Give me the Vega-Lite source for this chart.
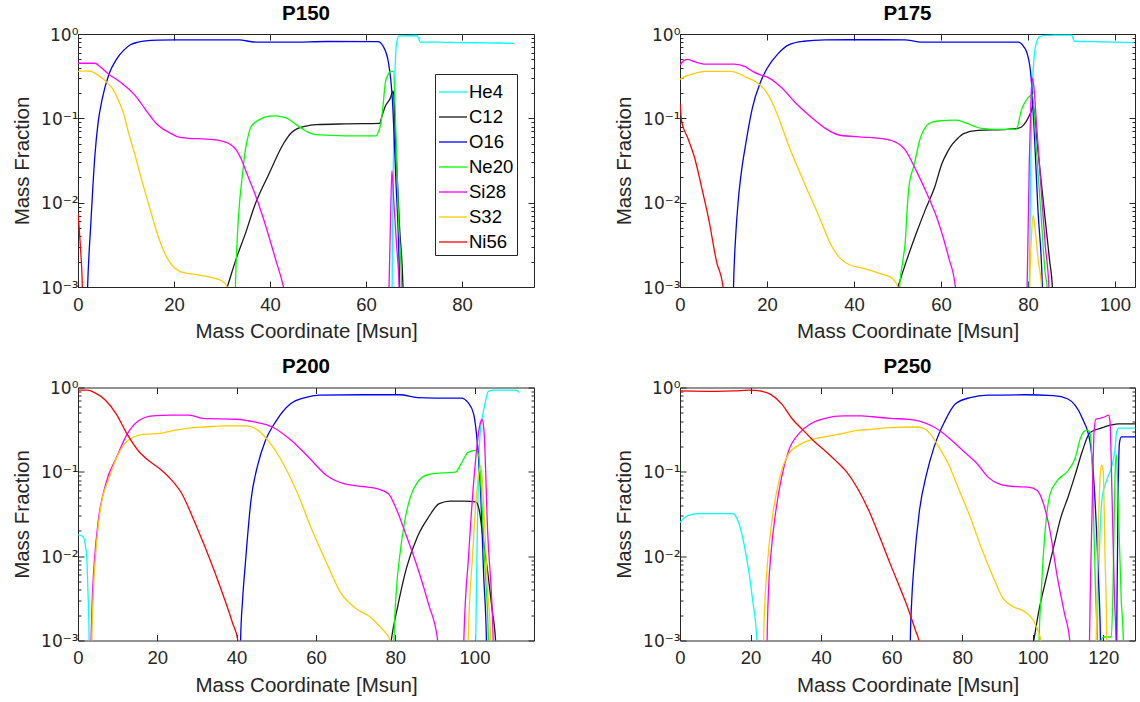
{
  "$schema": "https://vega.github.io/schema/vega-lite/v6.json",
  "background": "white",
  "padding": {"left": 12, "top": 3, "right": 4, "bottom": 4},
  "config": {
    "font": "Liberation Sans",
    "view": {"stroke": "#262626", "strokeWidth": 1},
    "axis": {"grid": false, "domain": false, "labelFont": "Liberation Sans", "labelFontSize": 18.5, "labelColor": "#262626", "titleFont": "Liberation Sans", "titleFontSize": 20.5, "titleFontWeight": "normal", "titleColor": "#262626", "tickColor": "#262626", "tickWidth": 1, "labelOverlap": false, "labelFlush": false, "labelBound": false},
    "axisX": {"tickSize": -6, "labelPadding": 14, "titlePadding": 8},
    "axisY": {"labelPadding": 6, "titlePadding": 8, "labelFont": "DejaVu Sans", "labelFontSize": 17, "labelOffset": 1},
    "legend": {"orient": "none", "legendX": 357, "legendY": 40, "strokeColor": "#262626", "fillColor": "#ffffff", "padding": 3, "symbolType": "stroke", "symbolSize": 784, "symbolStrokeWidth": 1.3, "labelFontSize": 18.5, "labelColor": "#000000", "labelFont": "Liberation Sans", "rowPadding": -5.3, "labelOffset": 1},
    "title": {"fontSize": 20.5, "fontWeight": "bold", "font": "Liberation Sans", "color": "#000000", "offset": 2},
    "line": {"strokeWidth": 1.3}
  },
  "datasets": {
    "P150": [
      {"s":"He4","m":0,"f":1e-5},{"s":"He4","m":65.2,"f":1e-5},{"s":"He4","m":65.5,"f":0.003},{"s":"He4","m":65.7,"f":0.03},{"s":"He4","m":66.0,"f":0.3},{"s":"He4","m":66.4,"f":0.8},{"s":"He4","m":66.9,"f":0.95},{"s":"He4","m":70.6,"f":0.96},{"s":"He4","m":70.9,"f":0.9},{"s":"He4","m":71.3,"f":0.8},{"s":"He4","m":75,"f":0.8},{"s":"He4","m":80,"f":0.79},{"s":"He4","m":85,"f":0.785},{"s":"He4","m":90.8,"f":0.775},
      {"s":"C12","m":0,"f":1e-5},{"s":"C12","m":20,"f":1e-5},{"s":"C12","m":28,"f":0.00028},{"s":"C12","m":31.1,"f":0.001},{"s":"C12","m":33,"f":0.0022},{"s":"C12","m":35,"f":0.0045},{"s":"C12","m":36.7,"f":0.0089},{"s":"C12","m":39.8,"f":0.022},{"s":"C12","m":42.8,"f":0.05},{"s":"C12","m":44.5,"f":0.068},{"s":"C12","m":45.8,"f":0.076},{"s":"C12","m":47.5,"f":0.081},{"s":"C12","m":49.6,"f":0.084},{"s":"C12","m":55.7,"f":0.086},{"s":"C12","m":62.8,"f":0.087},{"s":"C12","m":63.4,"f":0.11},{"s":"C12","m":64.0,"f":0.138},{"s":"C12","m":65.0,"f":0.17},{"s":"C12","m":65.7,"f":0.21},{"s":"C12","m":66.2,"f":0.05},{"s":"C12","m":67.0,"f":0.005},{"s":"C12","m":67.7,"f":0.001},{"s":"C12","m":68.0,"f":1e-5},
      {"s":"O16","m":0,"f":1e-5},{"s":"O16","m":1.2,"f":1e-5},{"s":"O16","m":2.0,"f":0.001},{"s":"O16","m":2.7,"f":0.006},{"s":"O16","m":3.5,"f":0.035},{"s":"O16","m":4.2,"f":0.09},{"s":"O16","m":5.0,"f":0.165},{"s":"O16","m":6.5,"f":0.34},{"s":"O16","m":8.0,"f":0.5},{"s":"O16","m":9.5,"f":0.64},{"s":"O16","m":11.0,"f":0.75},{"s":"O16","m":12.5,"f":0.8},{"s":"O16","m":14.1,"f":0.83},{"s":"O16","m":17,"f":0.845},{"s":"O16","m":20.1,"f":0.85},{"s":"O16","m":27,"f":0.85},{"s":"O16","m":33.7,"f":0.85},{"s":"O16","m":35.5,"f":0.82},{"s":"O16","m":37.5,"f":0.8},{"s":"O16","m":44.3,"f":0.8},{"s":"O16","m":51.9,"f":0.815},{"s":"O16","m":62.5,"f":0.81},{"s":"O16","m":63.6,"f":0.71},{"s":"O16","m":64.7,"f":0.45},{"s":"O16","m":65.5,"f":0.165},{"s":"O16","m":66.2,"f":0.02},{"s":"O16","m":67.0,"f":0.001},{"s":"O16","m":67.4,"f":1e-5},
      {"s":"Ne20","m":0,"f":1e-5},{"s":"Ne20","m":32.3,"f":1e-5},{"s":"Ne20","m":32.8,"f":0.001},{"s":"Ne20","m":33.2,"f":0.004},{"s":"Ne20","m":33.7,"f":0.0107},{"s":"Ne20","m":34.2,"f":0.02},{"s":"Ne20","m":34.8,"f":0.04},{"s":"Ne20","m":35.4,"f":0.06},{"s":"Ne20","m":36.0,"f":0.079},{"s":"Ne20","m":37.2,"f":0.092},{"s":"Ne20","m":38.3,"f":0.1},{"s":"Ne20","m":40,"f":0.106},{"s":"Ne20","m":41.3,"f":0.107},{"s":"Ne20","m":42.5,"f":0.104},{"s":"Ne20","m":43.6,"f":0.1},{"s":"Ne20","m":45,"f":0.088},{"s":"Ne20","m":46.6,"f":0.076},{"s":"Ne20","m":48,"f":0.068},{"s":"Ne20","m":49.6,"f":0.064},{"s":"Ne20","m":55.7,"f":0.062},{"s":"Ne20","m":62.1,"f":0.062},{"s":"Ne20","m":62.6,"f":0.07},{"s":"Ne20","m":63.1,"f":0.087},{"s":"Ne20","m":63.6,"f":0.15},{"s":"Ne20","m":64.0,"f":0.26},{"s":"Ne20","m":64.6,"f":0.33},{"s":"Ne20","m":65.1,"f":0.36},{"s":"Ne20","m":65.7,"f":0.36},{"s":"Ne20","m":66.3,"f":0.05},{"s":"Ne20","m":66.8,"f":0.006},{"s":"Ne20","m":67.4,"f":0.001},{"s":"Ne20","m":67.8,"f":1e-5},
      {"s":"Si28","m":0,"f":0.45},{"s":"Si28","m":2,"f":0.45},{"s":"Si28","m":3.5,"f":0.45},{"s":"Si28","m":4.6,"f":0.41},{"s":"Si28","m":6.5,"f":0.33},{"s":"Si28","m":8,"f":0.29},{"s":"Si28","m":9.5,"f":0.25},{"s":"Si28","m":11.8,"f":0.19},{"s":"Si28","m":13,"f":0.155},{"s":"Si28","m":14.1,"f":0.126},{"s":"Si28","m":16.3,"f":0.087},{"s":"Si28","m":19.4,"f":0.066},{"s":"Si28","m":21,"f":0.06},{"s":"Si28","m":23.1,"f":0.058},{"s":"Si28","m":26,"f":0.057},{"s":"Si28","m":29.2,"f":0.055},{"s":"Si28","m":31.5,"f":0.05},{"s":"Si28","m":33.0,"f":0.042},{"s":"Si28","m":34,"f":0.033},{"s":"Si28","m":35.2,"f":0.022},{"s":"Si28","m":36.8,"f":0.013},{"s":"Si28","m":38.3,"f":0.0074},{"s":"Si28","m":41.3,"f":0.002},{"s":"Si28","m":42.8,"f":0.001},{"s":"Si28","m":43.5,"f":0.0006},{"s":"Si28","m":44.5,"f":1e-5},{"s":"Si28","m":64.3,"f":1e-5},{"s":"Si28","m":64.8,"f":0.001},{"s":"Si28","m":65.1,"f":0.006},{"s":"Si28","m":65.4,"f":0.024},{"s":"Si28","m":65.8,"f":0.01},{"s":"Si28","m":66.4,"f":0.003},{"s":"Si28","m":66.9,"f":0.001},{"s":"Si28","m":67.2,"f":1e-5},
      {"s":"S32","m":0,"f":0.36},{"s":"S32","m":1.5,"f":0.365},{"s":"S32","m":2.7,"f":0.36},{"s":"S32","m":4,"f":0.33},{"s":"S32","m":5,"f":0.3},{"s":"S32","m":6.2,"f":0.26},{"s":"S32","m":7.3,"f":0.22},{"s":"S32","m":8.5,"f":0.16},{"s":"S32","m":9.5,"f":0.114},{"s":"S32","m":10.6,"f":0.065},{"s":"S32","m":11.8,"f":0.038},{"s":"S32","m":13,"f":0.021},{"s":"S32","m":14.1,"f":0.0127},{"s":"S32","m":15.2,"f":0.0077},{"s":"S32","m":16.3,"f":0.0047},{"s":"S32","m":17.5,"f":0.003},{"s":"S32","m":18.6,"f":0.0022},{"s":"S32","m":20,"f":0.0017},{"s":"S32","m":21.6,"f":0.0015},{"s":"S32","m":24.7,"f":0.0014},{"s":"S32","m":27.7,"f":0.0013},{"s":"S32","m":30.0,"f":0.00118},{"s":"S32","m":31.1,"f":0.001},{"s":"S32","m":31.6,"f":0.0006},{"s":"S32","m":32.2,"f":1e-5},
      {"s":"Ni56","m":0,"f":0.0075},{"s":"Ni56","m":0.5,"f":0.003},{"s":"Ni56","m":0.9,"f":0.001},{"s":"Ni56","m":1.3,"f":1e-5}
    ],
    "P175": [
      {"s":"He4","m":0,"f":1e-5},{"s":"He4","m":80.0,"f":1e-5},{"s":"He4","m":80.3,"f":0.001},{"s":"He4","m":80.6,"f":0.02},{"s":"He4","m":80.9,"f":0.15},{"s":"He4","m":81.3,"f":0.45},{"s":"He4","m":81.9,"f":0.78},{"s":"He4","m":82.7,"f":0.93},{"s":"He4","m":83.5,"f":0.955},{"s":"He4","m":86,"f":0.97},{"s":"He4","m":90.1,"f":0.97},{"s":"He4","m":90.4,"f":0.87},{"s":"He4","m":90.7,"f":0.82},{"s":"He4","m":95,"f":0.81},{"s":"He4","m":100,"f":0.8},{"s":"He4","m":104.3,"f":0.79},
      {"s":"C12","m":0,"f":1e-5},{"s":"C12","m":46,"f":1e-5},{"s":"C12","m":48,"f":0.00045},{"s":"C12","m":50.1,"f":0.001},{"s":"C12","m":52,"f":0.002},{"s":"C12","m":54.3,"f":0.0043},{"s":"C12","m":56.5,"f":0.0085},{"s":"C12","m":58.5,"f":0.015},{"s":"C12","m":60.2,"f":0.029},{"s":"C12","m":61.5,"f":0.04},{"s":"C12","m":62.7,"f":0.05},{"s":"C12","m":64,"f":0.059},{"s":"C12","m":65.2,"f":0.066},{"s":"C12","m":68.5,"f":0.072},{"s":"C12","m":75.2,"f":0.074},{"s":"C12","m":77.5,"f":0.076},{"s":"C12","m":78.5,"f":0.079},{"s":"C12","m":79.5,"f":0.09},{"s":"C12","m":80.2,"f":0.105},{"s":"C12","m":80.7,"f":0.12},{"s":"C12","m":81.2,"f":0.14},{"s":"C12","m":82,"f":0.058},{"s":"C12","m":83,"f":0.0185},{"s":"C12","m":84,"f":0.006},{"s":"C12","m":85,"f":0.002},{"s":"C12","m":85.6,"f":0.001},{"s":"C12","m":86,"f":1e-5},
      {"s":"O16","m":0,"f":1e-5},{"s":"O16","m":11.7,"f":1e-5},{"s":"O16","m":12.3,"f":0.001},{"s":"O16","m":12.8,"f":0.004},{"s":"O16","m":13.4,"f":0.0107},{"s":"O16","m":14.2,"f":0.025},{"s":"O16","m":15.0,"f":0.046},{"s":"O16","m":16.7,"f":0.137},{"s":"O16","m":18.4,"f":0.26},{"s":"O16","m":20.0,"f":0.39},{"s":"O16","m":22.6,"f":0.59},{"s":"O16","m":25.1,"f":0.75},{"s":"O16","m":28.4,"f":0.82},{"s":"O16","m":33.4,"f":0.85},{"s":"O16","m":41.8,"f":0.855},{"s":"O16","m":51.8,"f":0.85},{"s":"O16","m":53.5,"f":0.83},{"s":"O16","m":55.1,"f":0.8},{"s":"O16","m":65.2,"f":0.8},{"s":"O16","m":77.7,"f":0.8},{"s":"O16","m":79.0,"f":0.71},{"s":"O16","m":79.8,"f":0.59},{"s":"O16","m":80.7,"f":0.31},{"s":"O16","m":81.5,"f":0.06},{"s":"O16","m":82.3,"f":0.008},{"s":"O16","m":83.3,"f":0.001},{"s":"O16","m":83.7,"f":1e-5},
      {"s":"Ne20","m":0,"f":1e-5},{"s":"Ne20","m":50.0,"f":1e-5},{"s":"Ne20","m":50.5,"f":0.001},{"s":"Ne20","m":51.2,"f":0.002},{"s":"Ne20","m":51.8,"f":0.0035},{"s":"Ne20","m":52.2,"f":0.008},{"s":"Ne20","m":52.6,"f":0.015},{"s":"Ne20","m":53.9,"f":0.029},{"s":"Ne20","m":55.1,"f":0.055},{"s":"Ne20","m":56.8,"f":0.083},{"s":"Ne20","m":58,"f":0.09},{"s":"Ne20","m":59.3,"f":0.093},{"s":"Ne20","m":63.5,"f":0.095},{"s":"Ne20","m":66.0,"f":0.087},{"s":"Ne20","m":69.3,"f":0.076},{"s":"Ne20","m":73,"f":0.074},{"s":"Ne20","m":77.3,"f":0.074},{"s":"Ne20","m":78.5,"f":0.126},{"s":"Ne20","m":79.8,"f":0.17},{"s":"Ne20","m":81.0,"f":0.19},{"s":"Ne20","m":82,"f":0.037},{"s":"Ne20","m":83,"f":0.0072},{"s":"Ne20","m":84,"f":0.0014},{"s":"Ne20","m":84.4,"f":0.001},{"s":"Ne20","m":84.8,"f":1e-5},
      {"s":"Si28","m":0,"f":0.43},{"s":"Si28","m":0.8,"f":0.48},{"s":"Si28","m":1.7,"f":0.5},{"s":"Si28","m":3.3,"f":0.47},{"s":"Si28","m":5.8,"f":0.44},{"s":"Si28","m":12.5,"f":0.44},{"s":"Si28","m":15.0,"f":0.41},{"s":"Si28","m":16.7,"f":0.36},{"s":"Si28","m":18.3,"f":0.33},{"s":"Si28","m":20.0,"f":0.31},{"s":"Si28","m":23.4,"f":0.23},{"s":"Si28","m":26.7,"f":0.15},{"s":"Si28","m":30.1,"f":0.104},{"s":"Si28","m":33.4,"f":0.076},{"s":"Si28","m":36.8,"f":0.063},{"s":"Si28","m":41.8,"f":0.06},{"s":"Si28","m":45.9,"f":0.058},{"s":"Si28","m":49.3,"f":0.053},{"s":"Si28","m":51.8,"f":0.042},{"s":"Si28","m":54.3,"f":0.024},{"s":"Si28","m":56.8,"f":0.0127},{"s":"Si28","m":59.3,"f":0.0061},{"s":"Si28","m":61.8,"f":0.0022},{"s":"Si28","m":63.3,"f":0.001},{"s":"Si28","m":64,"f":1e-5},{"s":"Si28","m":79.3,"f":1e-5},{"s":"Si28","m":79.8,"f":0.001},{"s":"Si28","m":80.3,"f":0.03},{"s":"Si28","m":80.7,"f":0.18},{"s":"Si28","m":81.0,"f":0.3},{"s":"Si28","m":81.3,"f":0.25},{"s":"Si28","m":82,"f":0.08},{"s":"Si28","m":83,"f":0.015},{"s":"Si28","m":84,"f":0.003},{"s":"Si28","m":84.8,"f":0.001},{"s":"Si28","m":85.2,"f":1e-5},
      {"s":"S32","m":0,"f":0.29},{"s":"S32","m":1,"f":0.31},{"s":"S32","m":2.5,"f":0.33},{"s":"S32","m":5.8,"f":0.36},{"s":"S32","m":11.7,"f":0.36},{"s":"S32","m":13.5,"f":0.34},{"s":"S32","m":15.0,"f":0.31},{"s":"S32","m":17.5,"f":0.27},{"s":"S32","m":20.0,"f":0.2},{"s":"S32","m":21.3,"f":0.15},{"s":"S32","m":22.6,"f":0.104},{"s":"S32","m":25.1,"f":0.046},{"s":"S32","m":28.4,"f":0.018},{"s":"S32","m":31.7,"f":0.0074},{"s":"S32","m":35.1,"f":0.0029},{"s":"S32","m":36.8,"f":0.0022},{"s":"S32","m":38.4,"f":0.0019},{"s":"S32","m":43.4,"f":0.0016},{"s":"S32","m":46.8,"f":0.0014},{"s":"S32","m":48.5,"f":0.0013},{"s":"S32","m":50.1,"f":0.001},{"s":"S32","m":50.6,"f":1e-5},{"s":"S32","m":79.9,"f":1e-5},{"s":"S32","m":80.4,"f":0.001},{"s":"S32","m":80.8,"f":0.004},{"s":"S32","m":81.2,"f":0.007},{"s":"S32","m":81.6,"f":0.005},{"s":"S32","m":82.4,"f":0.002},{"s":"S32","m":83.1,"f":0.001},{"s":"S32","m":83.5,"f":1e-5},
      {"s":"Ni56","m":0,"f":0.15},{"s":"Ni56","m":0.4,"f":0.091},{"s":"Ni56","m":1.7,"f":0.06},{"s":"Ni56","m":3.3,"f":0.035},{"s":"Ni56","m":5.0,"f":0.015},{"s":"Ni56","m":6.7,"f":0.006},{"s":"Ni56","m":8.4,"f":0.002},{"s":"Ni56","m":9.9,"f":0.001},{"s":"Ni56","m":10.5,"f":1e-5}
    ],
    "P200": [
      {"s":"He4","m":0,"f":0.018},{"s":"He4","m":1.3,"f":0.017},{"s":"He4","m":1.8,"f":0.014},{"s":"He4","m":2.2,"f":0.0097},{"s":"He4","m":2.5,"f":0.004},{"s":"He4","m":2.8,"f":0.001},{"s":"He4","m":3.1,"f":1e-5},{"s":"He4","m":99.9,"f":1e-5},{"s":"He4","m":100.3,"f":0.001},{"s":"He4","m":100.7,"f":0.02},{"s":"He4","m":101.1,"f":0.15},{"s":"He4","m":101.4,"f":0.28},{"s":"He4","m":102.0,"f":0.45},{"s":"He4","m":102.6,"f":0.63},{"s":"He4","m":103.5,"f":0.9},{"s":"He4","m":104.8,"f":0.93},{"s":"He4","m":110.3,"f":0.93},{"s":"He4","m":110.8,"f":0.92},{"s":"He4","m":111.3,"f":0.87},
      {"s":"C12","m":0,"f":1e-5},{"s":"C12","m":76,"f":1e-5},{"s":"C12","m":78,"f":0.0004},{"s":"C12","m":79.0,"f":0.001},{"s":"C12","m":80.6,"f":0.0025},{"s":"C12","m":82.9,"f":0.0074},{"s":"C12","m":85.6,"f":0.017},{"s":"C12","m":88.4,"f":0.029},{"s":"C12","m":91.1,"f":0.042},{"s":"C12","m":93.9,"f":0.045},{"s":"C12","m":97.5,"f":0.045},{"s":"C12","m":100.3,"f":0.044},{"s":"C12","m":101.2,"f":0.035},{"s":"C12","m":102.1,"f":0.017},{"s":"C12","m":103.5,"f":0.0056},{"s":"C12","m":104.5,"f":0.0022},{"s":"C12","m":105.3,"f":0.001},{"s":"C12","m":105.7,"f":1e-5},
      {"s":"O16","m":0,"f":1e-5},{"s":"O16","m":40.5,"f":1e-5},{"s":"O16","m":41.0,"f":0.001},{"s":"O16","m":41.5,"f":0.003},{"s":"O16","m":42.2,"f":0.0081},{"s":"O16","m":43.6,"f":0.045},{"s":"O16","m":45.4,"f":0.124},{"s":"O16","m":47.2,"f":0.23},{"s":"O16","m":49.95,"f":0.4},{"s":"O16","m":53.6,"f":0.64},{"s":"O16","m":57.3,"f":0.76},{"s":"O16","m":60.9,"f":0.81},{"s":"O16","m":71.9,"f":0.82},{"s":"O16","m":81.1,"f":0.82},{"s":"O16","m":85.6,"f":0.76},{"s":"O16","m":90,"f":0.75},{"s":"O16","m":96.6,"f":0.75},{"s":"O16","m":98.4,"f":0.66},{"s":"O16","m":99.8,"f":0.48},{"s":"O16","m":100.5,"f":0.28},{"s":"O16","m":101.6,"f":0.05},{"s":"O16","m":102.3,"f":0.006},{"s":"O16","m":103.0,"f":0.001},{"s":"O16","m":103.4,"f":1e-5},
      {"s":"Ne20","m":0,"f":1e-5},{"s":"Ne20","m":79.2,"f":1e-5},{"s":"Ne20","m":79.7,"f":0.001},{"s":"Ne20","m":80.3,"f":0.004},{"s":"Ne20","m":81.1,"f":0.0097},{"s":"Ne20","m":82.4,"f":0.026},{"s":"Ne20","m":83.8,"f":0.05},{"s":"Ne20","m":85.6,"f":0.075},{"s":"Ne20","m":88.4,"f":0.093},{"s":"Ne20","m":92.0,"f":0.097},{"s":"Ne20","m":95.2,"f":0.099},{"s":"Ne20","m":96.6,"f":0.124},{"s":"Ne20","m":98.4,"f":0.17},{"s":"Ne20","m":100.3,"f":0.18},{"s":"Ne20","m":101.0,"f":0.16},{"s":"Ne20","m":101.8,"f":0.05},{"s":"Ne20","m":102.6,"f":0.008},{"s":"Ne20","m":103.5,"f":0.001},{"s":"Ne20","m":103.9,"f":1e-5},
      {"s":"Si28","m":0,"f":1e-5},{"s":"Si28","m":2.8,"f":1e-5},{"s":"Si28","m":3.3,"f":0.001},{"s":"Si28","m":3.7,"f":0.004},{"s":"Si28","m":4.2,"f":0.0097},{"s":"Si28","m":5.1,"f":0.026},{"s":"Si28","m":7.0,"f":0.072},{"s":"Si28","m":9.7,"f":0.148},{"s":"Si28","m":12.4,"f":0.28},{"s":"Si28","m":15.2,"f":0.4},{"s":"Si28","m":18.8,"f":0.46},{"s":"Si28","m":23.4,"f":0.47},{"s":"Si28","m":28.0,"f":0.47},{"s":"Si28","m":31.7,"f":0.43},{"s":"Si28","m":39.9,"f":0.42},{"s":"Si28","m":44.5,"f":0.39},{"s":"Si28","m":49.0,"f":0.34},{"s":"Si28","m":53.6,"f":0.24},{"s":"Si28","m":58.2,"f":0.148},{"s":"Si28","m":62.8,"f":0.09},{"s":"Si28","m":67.3,"f":0.072},{"s":"Si28","m":71.9,"f":0.067},{"s":"Si28","m":75.6,"f":0.063},{"s":"Si28","m":78.3,"f":0.055},{"s":"Si28","m":80.1,"f":0.038},{"s":"Si28","m":82.9,"f":0.017},{"s":"Si28","m":85.6,"f":0.0074},{"s":"Si28","m":88.4,"f":0.0027},{"s":"Si28","m":90.7,"f":0.001},{"s":"Si28","m":91.2,"f":1e-5},{"s":"Si28","m":96.8,"f":1e-5},{"s":"Si28","m":97.3,"f":0.001},{"s":"Si28","m":98.5,"f":0.01},{"s":"Si28","m":100.0,"f":0.1},{"s":"Si28","m":101.3,"f":0.35},{"s":"Si28","m":101.9,"f":0.42},{"s":"Si28","m":102.4,"f":0.3},{"s":"Si28","m":103.3,"f":0.02},{"s":"Si28","m":104.7,"f":0.001},{"s":"Si28","m":105.0,"f":1e-5},
      {"s":"S32","m":0,"f":1e-5},{"s":"S32","m":3.0,"f":1e-5},{"s":"S32","m":3.5,"f":0.001},{"s":"S32","m":3.9,"f":0.004},{"s":"S32","m":4.4,"f":0.0097},{"s":"S32","m":5.6,"f":0.035},{"s":"S32","m":7.9,"f":0.086},{"s":"S32","m":10.6,"f":0.178},{"s":"S32","m":13.4,"f":0.25},{"s":"S32","m":17.0,"f":0.28},{"s":"S32","m":20.7,"f":0.285},{"s":"S32","m":24.3,"f":0.31},{"s":"S32","m":28.0,"f":0.33},{"s":"S32","m":31.7,"f":0.34},{"s":"S32","m":37.1,"f":0.35},{"s":"S32","m":42.6,"f":0.35},{"s":"S32","m":45.4,"f":0.31},{"s":"S32","m":48.1,"f":0.23},{"s":"S32","m":51.8,"f":0.124},{"s":"S32","m":55.4,"f":0.055},{"s":"S32","m":59.1,"f":0.02},{"s":"S32","m":62.8,"f":0.0081},{"s":"S32","m":66.4,"f":0.0036},{"s":"S32","m":70.1,"f":0.0024},{"s":"S32","m":73.7,"f":0.0019},{"s":"S32","m":76.5,"f":0.0014},{"s":"S32","m":78.7,"f":0.001},{"s":"S32","m":79.2,"f":1e-5},{"s":"S32","m":97.9,"f":1e-5},{"s":"S32","m":98.4,"f":0.001},{"s":"S32","m":99.5,"f":0.01},{"s":"S32","m":100.6,"f":0.06},{"s":"S32","m":101.3,"f":0.11},{"s":"S32","m":101.6,"f":0.118},{"s":"S32","m":102.2,"f":0.05},{"s":"S32","m":103.3,"f":0.004},{"s":"S32","m":104.1,"f":0.001},{"s":"S32","m":104.4,"f":1e-5},
      {"s":"Ni56","m":0,"f":0.93},{"s":"Ni56","m":2.4,"f":0.93},{"s":"Ni56","m":4.2,"f":0.87},{"s":"Ni56","m":7.0,"f":0.7},{"s":"Ni56","m":9.7,"f":0.48},{"s":"Ni56","m":12.4,"f":0.28},{"s":"Ni56","m":15.2,"f":0.178},{"s":"Ni56","m":17.9,"f":0.135},{"s":"Ni56","m":20.7,"f":0.108},{"s":"Ni56","m":23.4,"f":0.082},{"s":"Ni56","m":26.2,"f":0.055},{"s":"Ni56","m":28.9,"f":0.029},{"s":"Ni56","m":31.7,"f":0.014},{"s":"Ni56","m":35.3,"f":0.0051},{"s":"Ni56","m":39.0,"f":0.0016},{"s":"Ni56","m":40.3,"f":0.001},{"s":"Ni56","m":40.8,"f":1e-5}
    ],
    "P250": [
      {"s":"He4","m":0,"f":0.025},{"s":"He4","m":1,"f":0.028},{"s":"He4","m":2.1,"f":0.03},{"s":"He4","m":5.1,"f":0.032},{"s":"He4","m":10.3,"f":0.032},{"s":"He4","m":14.9,"f":0.032},{"s":"He4","m":16.5,"f":0.026},{"s":"He4","m":18.5,"f":0.0117},{"s":"He4","m":20.6,"f":0.003},{"s":"He4","m":21.8,"f":0.001},{"s":"He4","m":22.3,"f":1e-5},{"s":"He4","m":117.8,"f":1e-5},{"s":"He4","m":118.3,"f":0.001},{"s":"He4","m":119,"f":0.015},{"s":"He4","m":119.7,"f":0.05},{"s":"He4","m":121,"f":0.08},{"s":"He4","m":122.5,"f":0.12},{"s":"He4","m":123.3,"f":0.18},{"s":"He4","m":123.8,"f":0.3},{"s":"He4","m":124.5,"f":0.33},{"s":"He4","m":129,"f":0.33},
      {"s":"C12","m":0,"f":1e-5},{"s":"C12","m":97,"f":1e-5},{"s":"C12","m":99,"f":0.0005},{"s":"C12","m":100.3,"f":0.001},{"s":"C12","m":101.8,"f":0.0023},{"s":"C12","m":103.9,"f":0.0056},{"s":"C12","m":105.9,"f":0.0127},{"s":"C12","m":108.0,"f":0.029},{"s":"C12","m":110.0,"f":0.05},{"s":"C12","m":112.1,"f":0.094},{"s":"C12","m":114.1,"f":0.178},{"s":"C12","m":116.2,"f":0.29},{"s":"C12","m":118.3,"f":0.32},{"s":"C12","m":120.3,"f":0.34},{"s":"C12","m":122.4,"f":0.36},{"s":"C12","m":124.4,"f":0.37},{"s":"C12","m":129,"f":0.37},
      {"s":"O16","m":0,"f":1e-5},{"s":"O16","m":64.8,"f":1e-5},{"s":"O16","m":65.3,"f":0.001},{"s":"O16","m":65.7,"f":0.003},{"s":"O16","m":66.3,"f":0.0074},{"s":"O16","m":67.9,"f":0.035},{"s":"O16","m":69.9,"f":0.094},{"s":"O16","m":72.0,"f":0.195},{"s":"O16","m":75.1,"f":0.4},{"s":"O16","m":78.1,"f":0.64},{"s":"O16","m":82.3,"f":0.76},{"s":"O16","m":87.4,"f":0.81},{"s":"O16","m":97.7,"f":0.82},{"s":"O16","m":105.9,"f":0.8},{"s":"O16","m":110.0,"f":0.73},{"s":"O16","m":112.1,"f":0.61},{"s":"O16","m":114.1,"f":0.43},{"s":"O16","m":116.3,"f":0.22},{"s":"O16","m":117.5,"f":0.06},{"s":"O16","m":118.6,"f":0.006},{"s":"O16","m":119.2,"f":0.001},{"s":"O16","m":119.6,"f":1e-5},{"s":"O16","m":123.4,"f":1e-5},{"s":"O16","m":123.8,"f":0.001},{"s":"O16","m":124.2,"f":0.05},{"s":"O16","m":124.6,"f":0.22},{"s":"O16","m":125.1,"f":0.26},{"s":"O16","m":129,"f":0.26},
      {"s":"Ne20","m":0,"f":1e-5},{"s":"Ne20","m":101.3,"f":1e-5},{"s":"Ne20","m":101.8,"f":0.001},{"s":"Ne20","m":102.3,"f":0.003},{"s":"Ne20","m":102.8,"f":0.0074},{"s":"Ne20","m":103.9,"f":0.029},{"s":"Ne20","m":104.9,"f":0.054},{"s":"Ne20","m":106.9,"f":0.078},{"s":"Ne20","m":110.0,"f":0.103},{"s":"Ne20","m":112.1,"f":0.148},{"s":"Ne20","m":113.6,"f":0.256},{"s":"Ne20","m":115.2,"f":0.31},{"s":"Ne20","m":116.2,"f":0.3},{"s":"Ne20","m":117.0,"f":0.08},{"s":"Ne20","m":117.8,"f":0.004},{"s":"Ne20","m":118.6,"f":0.0008},{"s":"Ne20","m":119.6,"f":0.00105},{"s":"Ne20","m":120.3,"f":0.0011},{"s":"Ne20","m":122.3,"f":0.0011},{"s":"Ne20","m":122.8,"f":0.005},{"s":"Ne20","m":123.3,"f":0.08},{"s":"Ne20","m":123.7,"f":0.16},{"s":"Ne20","m":124.2,"f":0.05},{"s":"Ne20","m":125.1,"f":0.003},{"s":"Ne20","m":125.7,"f":0.001},{"s":"Ne20","m":126.1,"f":1e-5},
      {"s":"Si28","m":0,"f":1e-5},{"s":"Si28","m":24.2,"f":1e-5},{"s":"Si28","m":24.7,"f":0.001},{"s":"Si28","m":25.1,"f":0.004},{"s":"Si28","m":25.7,"f":0.0097},{"s":"Si28","m":27.2,"f":0.035},{"s":"Si28","m":28.8,"f":0.086},{"s":"Si28","m":30.8,"f":0.178},{"s":"Si28","m":33.9,"f":0.29},{"s":"Si28","m":37.0,"f":0.37},{"s":"Si28","m":41.1,"f":0.43},{"s":"Si28","m":46.3,"f":0.46},{"s":"Si28","m":51.4,"f":0.46},{"s":"Si28","m":54.5,"f":0.45},{"s":"Si28","m":59.6,"f":0.43},{"s":"Si28","m":64.8,"f":0.42},{"s":"Si28","m":67.9,"f":0.4},{"s":"Si28","m":72.0,"f":0.34},{"s":"Si28","m":76.1,"f":0.256},{"s":"Si28","m":80.2,"f":0.178},{"s":"Si28","m":84.3,"f":0.124},{"s":"Si28","m":87.4,"f":0.086},{"s":"Si28","m":90.5,"f":0.072},{"s":"Si28","m":94.6,"f":0.067},{"s":"Si28","m":98.7,"f":0.066},{"s":"Si28","m":101.3,"f":0.06},{"s":"Si28","m":102.8,"f":0.045},{"s":"Si28","m":104.9,"f":0.02},{"s":"Si28","m":107.0,"f":0.0056},{"s":"Si28","m":109.0,"f":0.0021},{"s":"Si28","m":110.5,"f":0.001},{"s":"Si28","m":111,"f":1e-5},{"s":"Si28","m":115.6,"f":1e-5},{"s":"Si28","m":116.1,"f":0.001},{"s":"Si28","m":116.8,"f":0.03},{"s":"Si28","m":117.4,"f":0.3},{"s":"Si28","m":117.9,"f":0.42},{"s":"Si28","m":119,"f":0.43},{"s":"Si28","m":120.5,"f":0.45},{"s":"Si28","m":121.5,"f":0.47},{"s":"Si28","m":121.9,"f":0.4},{"s":"Si28","m":122.5,"f":0.05},{"s":"Si28","m":123.2,"f":0.003},{"s":"Si28","m":123.6,"f":0.001},{"s":"Si28","m":124,"f":1e-5},
      {"s":"S32","m":0,"f":1e-5},{"s":"S32","m":23.2,"f":1e-5},{"s":"S32","m":23.7,"f":0.001},{"s":"S32","m":24.1,"f":0.003},{"s":"S32","m":24.7,"f":0.0074},{"s":"S32","m":26.2,"f":0.029},{"s":"S32","m":28.3,"f":0.086},{"s":"S32","m":30.8,"f":0.163},{"s":"S32","m":33.9,"f":0.21},{"s":"S32","m":37.0,"f":0.24},{"s":"S32","m":41.1,"f":0.26},{"s":"S32","m":45.2,"f":0.28},{"s":"S32","m":50.4,"f":0.31},{"s":"S32","m":54.5,"f":0.32},{"s":"S32","m":59.6,"f":0.335},{"s":"S32","m":66.8,"f":0.34},{"s":"S32","m":68.9,"f":0.33},{"s":"S32","m":71.0,"f":0.28},{"s":"S32","m":73.0,"f":0.21},{"s":"S32","m":76.1,"f":0.124},{"s":"S32","m":79.2,"f":0.06},{"s":"S32","m":82.3,"f":0.029},{"s":"S32","m":85.4,"f":0.0127},{"s":"S32","m":88.4,"f":0.0062},{"s":"S32","m":91.5,"f":0.0032},{"s":"S32","m":94.6,"f":0.0025},{"s":"S32","m":97.7,"f":0.0022},{"s":"S32","m":100.3,"f":0.0017},{"s":"S32","m":101.8,"f":0.0012},{"s":"S32","m":102.3,"f":0.001},{"s":"S32","m":102.7,"f":1e-5},{"s":"S32","m":117.5,"f":1e-5},{"s":"S32","m":118.0,"f":0.001},{"s":"S32","m":118.6,"f":0.02},{"s":"S32","m":119.2,"f":0.1},{"s":"S32","m":119.6,"f":0.12},{"s":"S32","m":120.0,"f":0.1},{"s":"S32","m":120.5,"f":0.01},{"s":"S32","m":121.0,"f":0.001},{"s":"S32","m":121.3,"f":1e-5},
      {"s":"Ni56","m":0,"f":0.91},{"s":"Ni56","m":10.3,"f":0.9},{"s":"Ni56","m":15.4,"f":0.91},{"s":"Ni56","m":19.5,"f":0.93},{"s":"Ni56","m":22.6,"f":0.91},{"s":"Ni56","m":25.7,"f":0.83},{"s":"Ni56","m":28.8,"f":0.64},{"s":"Ni56","m":31.9,"f":0.42},{"s":"Ni56","m":35.0,"f":0.31},{"s":"Ni56","m":38.0,"f":0.23},{"s":"Ni56","m":41.1,"f":0.178},{"s":"Ni56","m":44.2,"f":0.135},{"s":"Ni56","m":47.3,"f":0.099},{"s":"Ni56","m":50.4,"f":0.063},{"s":"Ni56","m":53.5,"f":0.035},{"s":"Ni56","m":56.6,"f":0.017},{"s":"Ni56","m":59.6,"f":0.0081},{"s":"Ni56","m":62.7,"f":0.0039},{"s":"Ni56","m":64.8,"f":0.0023},{"s":"Ni56","m":66.8,"f":0.0013},{"s":"Ni56","m":67.7,"f":0.001},{"s":"Ni56","m":68.2,"f":1e-5}
    ]
  },
  "spacing": 13.5,
  "vconcat": [
    {
      "spacing": 79,
      "hconcat": [
        {
          "title": "P150", "width": 456, "height": 253,
          "data": {"name": "P150"},
          "layer": [
            {
              "mark": {"type": "line", "clip": true, "interpolate": "monotone"},
              "encoding": {
                "x": {"field": "m", "type": "quantitative", "scale": {"domain": [0, 95], "nice": false, "zero": false}, "axis": {"values": [0, 20, 40, 60, 80], "title": "Mass Coordinate [Msun]"}},
                "y": {"field": "f", "type": "quantitative", "scale": {"type": "log", "domain": [0.001, 1], "nice": false}, "axis": {"title": "Mass Fraction", "values": [0.001,0.002,0.003,0.004,0.005,0.006,0.007,0.008,0.009,0.01,0.02,0.03,0.04,0.05,0.06,0.07,0.08,0.09,0.1,0.2,0.3,0.4,0.5,0.6,0.7,0.8,0.9,1], "labelExpr": "datum.value == 1 ? '10⁰' : datum.value == 0.1 ? '10⁻¹' : datum.value == 0.01 ? '10⁻²' : datum.value == 0.001 ? '10⁻³' : ''", "tickSize": {"condition": {"test": "indexof([1, 0.1, 0.01, 0.001], datum.value) >= 0", "value": -6}, "value": -3}}},
                "color": {"field": "s", "type": "nominal", "scale": {"domain": ["He4","C12","O16","Ne20","Si28","S32","Ni56"], "range": ["#00ffff","#1a1a1a","#0000ff","#00ff00","#ff00ff","#ffcc00","#ff0000"]}, "legend": {"title": null}}
              }
            },
            {
              "mark": {"type": "line", "opacity": 0, "clip": true},
              "encoding": {
                "x": {"field": "m", "type": "quantitative", "scale": {"domain": [0, 95], "nice": false, "zero": false}, "axis": {"orient": "top", "labels": false, "title": null, "values": [0, 20, 40, 60, 80]}},
                "y": {"field": "f", "type": "quantitative", "scale": {"type": "log", "domain": [0.001, 1], "nice": false}, "axis": {"orient": "right", "labels": false, "title": null, "values": [0.001,0.002,0.003,0.004,0.005,0.006,0.007,0.008,0.009,0.01,0.02,0.03,0.04,0.05,0.06,0.07,0.08,0.09,0.1,0.2,0.3,0.4,0.5,0.6,0.7,0.8,0.9,1], "tickSize": {"condition": {"test": "indexof([1, 0.1, 0.01, 0.001], datum.value) >= 0", "value": -6}, "value": -3}}},
                "detail": {"field": "s"}
              }
            }
          ],
          "resolve": {"axis": {"x": "independent", "y": "independent"}}
        },
        {
          "title": "P175", "width": 455, "height": 253,
          "data": {"name": "P175"},
          "layer": [
            {
              "mark": {"type": "line", "clip": true, "interpolate": "monotone"},
              "encoding": {
                "x": {"field": "m", "type": "quantitative", "scale": {"domain": [0, 104.6], "nice": false, "zero": false}, "axis": {"values": [0, 20, 40, 60, 80, 100], "title": "Mass Coordinate [Msun]"}},
                "y": {"field": "f", "type": "quantitative", "scale": {"type": "log", "domain": [0.001, 1], "nice": false}, "axis": {"title": "Mass Fraction", "values": [0.001,0.002,0.003,0.004,0.005,0.006,0.007,0.008,0.009,0.01,0.02,0.03,0.04,0.05,0.06,0.07,0.08,0.09,0.1,0.2,0.3,0.4,0.5,0.6,0.7,0.8,0.9,1], "labelExpr": "datum.value == 1 ? '10⁰' : datum.value == 0.1 ? '10⁻¹' : datum.value == 0.01 ? '10⁻²' : datum.value == 0.001 ? '10⁻³' : ''", "tickSize": {"condition": {"test": "indexof([1, 0.1, 0.01, 0.001], datum.value) >= 0", "value": -6}, "value": -3}}},
                "color": {"field": "s", "type": "nominal", "scale": {"domain": ["He4","C12","O16","Ne20","Si28","S32","Ni56"], "range": ["#00ffff","#1a1a1a","#0000ff","#00ff00","#ff00ff","#ffcc00","#ff0000"]}, "legend": {"title": null}}
              }
            },
            {
              "mark": {"type": "line", "opacity": 0, "clip": true},
              "encoding": {
                "x": {"field": "m", "type": "quantitative", "scale": {"domain": [0, 104.6], "nice": false, "zero": false}, "axis": {"orient": "top", "labels": false, "title": null, "values": [0, 20, 40, 60, 80, 100]}},
                "y": {"field": "f", "type": "quantitative", "scale": {"type": "log", "domain": [0.001, 1], "nice": false}, "axis": {"orient": "right", "labels": false, "title": null, "values": [0.001,0.002,0.003,0.004,0.005,0.006,0.007,0.008,0.009,0.01,0.02,0.03,0.04,0.05,0.06,0.07,0.08,0.09,0.1,0.2,0.3,0.4,0.5,0.6,0.7,0.8,0.9,1], "tickSize": {"condition": {"test": "indexof([1, 0.1, 0.01, 0.001], datum.value) >= 0", "value": -6}, "value": -3}}},
                "detail": {"field": "s"}
              }
            }
          ],
          "resolve": {"axis": {"x": "independent", "y": "independent"}}
        }
      ]
    },
    {
      "spacing": 79,
      "hconcat": [
        {
          "title": "P200", "width": 456, "height": 253,
          "data": {"name": "P200"},
          "layer": [
            {
              "mark": {"type": "line", "clip": true, "interpolate": "monotone"},
              "encoding": {
                "x": {"field": "m", "type": "quantitative", "scale": {"domain": [0, 115], "nice": false, "zero": false}, "axis": {"values": [0, 20, 40, 60, 80, 100], "title": "Mass Coordinate [Msun]"}},
                "y": {"field": "f", "type": "quantitative", "scale": {"type": "log", "domain": [0.001, 1], "nice": false}, "axis": {"title": "Mass Fraction", "values": [0.001,0.002,0.003,0.004,0.005,0.006,0.007,0.008,0.009,0.01,0.02,0.03,0.04,0.05,0.06,0.07,0.08,0.09,0.1,0.2,0.3,0.4,0.5,0.6,0.7,0.8,0.9,1], "labelExpr": "datum.value == 1 ? '10⁰' : datum.value == 0.1 ? '10⁻¹' : datum.value == 0.01 ? '10⁻²' : datum.value == 0.001 ? '10⁻³' : ''", "tickSize": {"condition": {"test": "indexof([1, 0.1, 0.01, 0.001], datum.value) >= 0", "value": -6}, "value": -3}}},
                "color": {"field": "s", "type": "nominal", "scale": {"domain": ["He4","C12","O16","Ne20","Si28","S32","Ni56"], "range": ["#00ffff","#1a1a1a","#0000ff","#00ff00","#ff00ff","#ffcc00","#ff0000"]}, "legend": {"title": null}}
              }
            },
            {
              "mark": {"type": "line", "opacity": 0, "clip": true},
              "encoding": {
                "x": {"field": "m", "type": "quantitative", "scale": {"domain": [0, 115], "nice": false, "zero": false}, "axis": {"orient": "top", "labels": false, "title": null, "values": [0, 20, 40, 60, 80, 100]}},
                "y": {"field": "f", "type": "quantitative", "scale": {"type": "log", "domain": [0.001, 1], "nice": false}, "axis": {"orient": "right", "labels": false, "title": null, "values": [0.001,0.002,0.003,0.004,0.005,0.006,0.007,0.008,0.009,0.01,0.02,0.03,0.04,0.05,0.06,0.07,0.08,0.09,0.1,0.2,0.3,0.4,0.5,0.6,0.7,0.8,0.9,1], "tickSize": {"condition": {"test": "indexof([1, 0.1, 0.01, 0.001], datum.value) >= 0", "value": -6}, "value": -3}}},
                "detail": {"field": "s"}
              }
            }
          ],
          "resolve": {"axis": {"x": "independent", "y": "independent"}}
        },
        {
          "title": "P250", "width": 455, "height": 253,
          "data": {"name": "P250"},
          "layer": [
            {
              "mark": {"type": "line", "clip": true, "interpolate": "monotone"},
              "encoding": {
                "x": {"field": "m", "type": "quantitative", "scale": {"domain": [0, 129], "nice": false, "zero": false}, "axis": {"values": [0, 20, 40, 60, 80, 100, 120], "title": "Mass Coordinate [Msun]"}},
                "y": {"field": "f", "type": "quantitative", "scale": {"type": "log", "domain": [0.001, 1], "nice": false}, "axis": {"title": "Mass Fraction", "values": [0.001,0.002,0.003,0.004,0.005,0.006,0.007,0.008,0.009,0.01,0.02,0.03,0.04,0.05,0.06,0.07,0.08,0.09,0.1,0.2,0.3,0.4,0.5,0.6,0.7,0.8,0.9,1], "labelExpr": "datum.value == 1 ? '10⁰' : datum.value == 0.1 ? '10⁻¹' : datum.value == 0.01 ? '10⁻²' : datum.value == 0.001 ? '10⁻³' : ''", "tickSize": {"condition": {"test": "indexof([1, 0.1, 0.01, 0.001], datum.value) >= 0", "value": -6}, "value": -3}}},
                "color": {"field": "s", "type": "nominal", "scale": {"domain": ["He4","C12","O16","Ne20","Si28","S32","Ni56"], "range": ["#00ffff","#1a1a1a","#0000ff","#00ff00","#ff00ff","#ffcc00","#ff0000"]}, "legend": {"title": null}}
              }
            },
            {
              "mark": {"type": "line", "opacity": 0, "clip": true},
              "encoding": {
                "x": {"field": "m", "type": "quantitative", "scale": {"domain": [0, 129], "nice": false, "zero": false}, "axis": {"orient": "top", "labels": false, "title": null, "values": [0, 20, 40, 60, 80, 100, 120]}},
                "y": {"field": "f", "type": "quantitative", "scale": {"type": "log", "domain": [0.001, 1], "nice": false}, "axis": {"orient": "right", "labels": false, "title": null, "values": [0.001,0.002,0.003,0.004,0.005,0.006,0.007,0.008,0.009,0.01,0.02,0.03,0.04,0.05,0.06,0.07,0.08,0.09,0.1,0.2,0.3,0.4,0.5,0.6,0.7,0.8,0.9,1], "tickSize": {"condition": {"test": "indexof([1, 0.1, 0.01, 0.001], datum.value) >= 0", "value": -6}, "value": -3}}},
                "detail": {"field": "s"}
              }
            }
          ],
          "resolve": {"axis": {"x": "independent", "y": "independent"}}
        }
      ]
    }
  ]
}
